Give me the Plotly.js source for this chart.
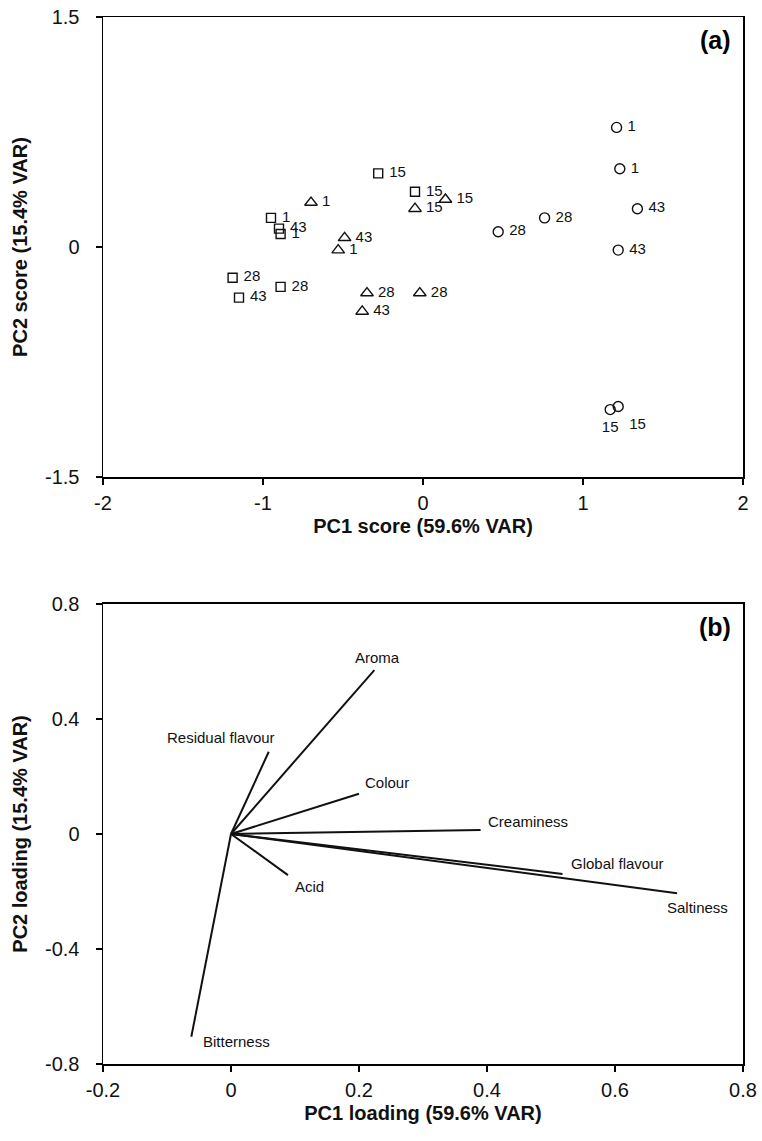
<!DOCTYPE html>
<html>
<head>
<meta charset="utf-8">
<script src="https://cdn.plot.ly/plotly-3.0.1.min.js"></script>
<style>html,body{margin:0;padding:0;background:#fff;}#chart{width:762px;height:1141px;}</style>
</head>
<body>
<div id="chart"></div>
<script>
// ---- Panel (a): PCA scores ----
const circlePC1 = [1.21, 1.23, 1.34, 1.22, 0.76, 0.47, 1.17, 1.22];
const circlePC2 = [0.78, 0.51, 0.25, -0.02, 0.19, 0.10, -1.06, -1.04];
const circleLabels = ['1', '1', '43', '43', '28', '28', '15', '15'];

const squarePC1 = [-0.28, -0.05, -0.95, -0.90, -0.89, -1.19, -1.15, -0.89];
const squarePC2 = [0.48, 0.36, 0.19, 0.12, 0.085, -0.20, -0.33, -0.26];
const squareLabels = ['15', '15', '1', '43', '1', '28', '43', '28'];

const trianglePC1 = [-0.70, -0.05, 0.14, -0.49, -0.53, -0.35, -0.02, -0.38];
const trianglePC2 = [0.29, 0.25, 0.31, 0.06, -0.02, -0.30, -0.30, -0.42];
const triangleLabels = ['1', '15', '15', '43', '1', '28', '28', '43'];

// ---- Panel (b): PCA loadings ----
const attributes = ['Aroma', 'Residual flavour', 'Colour', 'Creaminess', 'Global flavour', 'Saltiness', 'Acid', 'Bitterness'];
const pc1Loading = [0.224, 0.059, 0.200, 0.390, 0.518, 0.697, 0.089, -0.062];
const pc2Loading = [0.570, 0.286, 0.140, 0.014, -0.139, -0.206, -0.143, -0.705];

const xTicksA = [-2, -1, 0, 1, 2];
const yTicksA = [-1.5, 0, 1.5];
const xTicksB = [-0.2, 0, 0.2, 0.4, 0.6, 0.8];
const yTicksB = [-0.8, -0.4, 0, 0.4, 0.8];

// label placement styles (positions only)
const circleTextPos = ['middle right','middle right','middle right','middle right','middle right','middle right','bottom center','bottom right'];
const loadLabelStyle = [
  {xanchor:'center', xshift:3, yshift:13},
  {xanchor:'right', xshift:8, yshift:14},
  {xanchor:'left', xshift:4, yshift:11},
  {xanchor:'left', xshift:5, yshift:8},
  {xanchor:'left', xshift:6, yshift:10},
  {xanchor:'center', xshift:20, yshift:-14},
  {xanchor:'center', xshift:22, yshift:-11},
  {xanchor:'left', xshift:10, yshift:-5}
];

const FONT = 'Liberation Sans, Arial, Helvetica, sans-serif';
const lblFont = {family: FONT, size: 15, color: '#111'};

function markerTrace(x, y, symbol, size) {
  return {
    type: 'scatter', mode: 'markers', x: x, y: y,
    marker: {symbol: symbol, size: size, color: '#111', line: {color: '#111', width: 1.4}},
    xaxis: 'x', yaxis: 'y', showlegend: false, hoverinfo: 'skip'
  };
}
// label trace: invisible spacer marker pushes the text away from the point
function labelTrace(x, y, labels, pos, spacer) {
  return {
    type: 'scatter', mode: 'markers+text', x: x, y: y, text: labels,
    textposition: pos, textfont: lblFont, cliponaxis: false,
    marker: {size: spacer, opacity: 0, color: '#fff'},
    xaxis: 'x', yaxis: 'y', showlegend: false, hoverinfo: 'skip'
  };
}

const traces = [
  markerTrace(circlePC1, circlePC2, 'circle-open', 10),
  markerTrace(squarePC1, squarePC2, 'square-open', 9),
  markerTrace(trianglePC1, trianglePC2, 'triangle-up-open', 11),
  labelTrace(circlePC1, circlePC2, circleLabels, circleTextPos, 16),
  labelTrace(squarePC1, squarePC2, squareLabels, 'middle right', 16),
  labelTrace(trianglePC1, trianglePC2, triangleLabels, 'middle right', 16)
];

const annotations = [];
attributes.forEach(function(name, i) {
  traces.push({
    type: 'scatter', mode: 'lines', x: [0, pc1Loading[i]], y: [0, pc2Loading[i]],
    line: {color: '#111', width: 2}, xaxis: 'x2', yaxis: 'y2', showlegend: false, hoverinfo: 'skip'
  });
  const s = loadLabelStyle[i];
  annotations.push({
    xref: 'x2', yref: 'y2', x: pc1Loading[i], y: pc2Loading[i], text: name, showarrow: false,
    xanchor: s.xanchor, yanchor: 'middle', xshift: s.xshift, yshift: s.yshift, font: lblFont
  });
});

annotations.push({xref: 'x domain', yref: 'y domain', x: 0.985, y: 0.985, xanchor: 'right', yanchor: 'top',
  text: '<b>(a)</b>', showarrow: false, font: {family: FONT, size: 25, color: '#000'}});
annotations.push({xref: 'x2 domain', yref: 'y2 domain', x: 0.985, y: 0.985, xanchor: 'right', yanchor: 'top',
  text: '<b>(b)</b>', showarrow: false, font: {family: FONT, size: 25, color: '#000'}});

function axis(range, ticks, title, domain, anchor, isY) {
  return {
    range: range, tickmode: 'array', tickvals: ticks, ticktext: ticks.map(String),
    ticks: 'outside', ticklen: 6, tickwidth: 1.2, tickcolor: '#000',
    ticklabelstandoff: isY ? 12 : 1,
    showline: true, linecolor: '#000', linewidth: 1.5, mirror: true,
    showgrid: false, zeroline: false, domain: domain, anchor: anchor,
    tickfont: {family: FONT, size: 20, color: '#111'},
    title: {text: '<b>' + title + '</b>', font: {family: FONT, size: 20, color: '#111'}, standoff: isY ? 12 : 6}
  };
}

const layout = {
  width: 762, height: 1141,
  margin: {l: 103, r: 19, t: 17, b: 77},
  paper_bgcolor: '#fff', plot_bgcolor: '#fff',
  xaxis: axis([-2, 2], xTicksA, 'PC1 score (59.6% VAR)', [0, 1], 'y', false),
  yaxis: axis([-1.5, 1.5], yTicksA, 'PC2 score (15.4% VAR)', [0.5606, 1], 'x', true),
  xaxis2: axis([-0.2, 0.8], xTicksB, 'PC1 loading (59.6% VAR)', [0, 1], 'y2', false),
  yaxis2: axis([-0.8, 0.8], yTicksB, 'PC2 loading (15.4% VAR)', [0, 0.4394], 'x2', true),
  annotations: annotations,
  showlegend: false
};

Plotly.newPlot('chart', traces, layout, {displayModeBar: false, staticPlot: true});
</script>
</body>
</html>
